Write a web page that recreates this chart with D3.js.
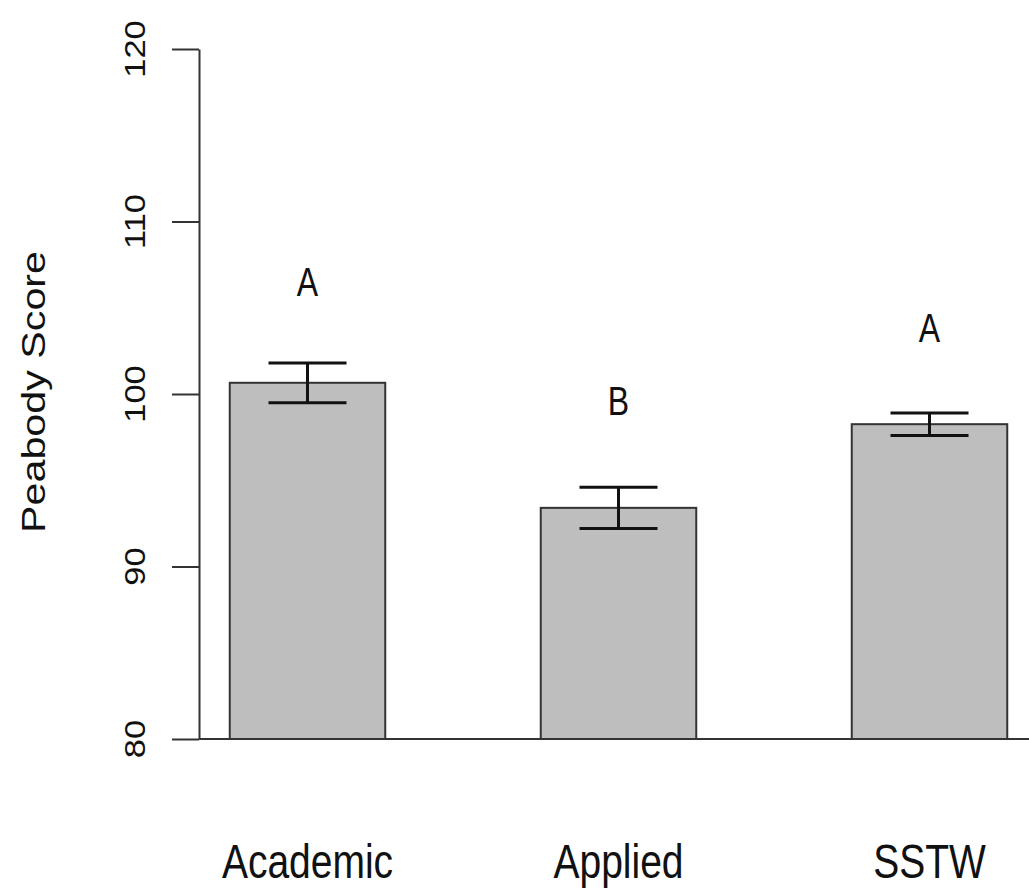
<!doctype html>
<html>
  <head>
    <script src="https://cdnjs.cloudflare.com/ajax/libs/d3/7.8.5/d3.min.js"></script>
    <style>
      body { margin: 0; background: #fff; }
      text { font-family: "Liberation Sans", Arial, sans-serif; fill: #111; }
      .bar { fill: #bebebe; stroke: #333; stroke-width: 2; }
      .err { stroke: #111; stroke-width: 3; fill: none; }
      .axis path, .axis line { stroke: #333; stroke-width: 2; }
    </style>
  </head>
  <body>
    <svg id="chart" width="1029" height="893"></svg>
    <script>
      // values
      var groups = ["Academic", "Applied", "SSTW"];
      var means = [100.65, 93.4, 98.25];
      var errs = [1.15, 1.2, 0.65];
      var letters = ["A", "B", "A"];
      var letterAt = [105.7, 98.8, 103.0];
      var yTicks = [80, 90, 100, 110, 120];

      var svg = d3.select("#chart");
      var stretch = 1.25; // text in the picture is drawn taller than wide

      var y = d3.scaleLinear().domain([80, 120]).range([739, 49]);
      var x = d3.scaleBand().domain(groups).range([152, 1085])
                .paddingInner(0.5).paddingOuter(0.25);

      // bars
      svg.selectAll("rect.bar").data(groups)
        .enter().append("rect")
          .attr("class", "bar")
          .attr("x", d => x(d))
          .attr("width", x.bandwidth())
          .attr("y", (d, i) => y(means[i]))
          .attr("height", (d, i) => y(80) - y(means[i]));

      // baseline
      svg.append("line")
        .attr("x1", 199).attr("x2", 1029)
        .attr("y1", y(80)).attr("y2", y(80))
        .style("stroke", "#333").style("stroke-width", 2);

      // y axis
      svg.append("g").attr("class", "axis")
        .attr("transform", "translate(199,0)")
        .call(d3.axisLeft(y).tickValues(yTicks).tickSize(27).tickSizeOuter(0).tickFormat(""));

      // error bars
      var capW = 78;
      var eb = svg.selectAll("g.eb").data(groups).enter().append("g").attr("class", "eb");
      eb.append("line").attr("class", "err")
        .attr("x1", d => x(d) + x.bandwidth() / 2).attr("x2", d => x(d) + x.bandwidth() / 2)
        .attr("y1", (d, i) => y(means[i] + errs[i])).attr("y2", (d, i) => y(means[i] - errs[i]));
      eb.append("line").attr("class", "err")
        .attr("x1", d => x(d) + x.bandwidth() / 2 - capW / 2).attr("x2", d => x(d) + x.bandwidth() / 2 + capW / 2)
        .attr("y1", (d, i) => y(means[i] + errs[i])).attr("y2", (d, i) => y(means[i] + errs[i]));
      eb.append("line").attr("class", "err")
        .attr("x1", d => x(d) + x.bandwidth() / 2 - capW / 2).attr("x2", d => x(d) + x.bandwidth() / 2 + capW / 2)
        .attr("y1", (d, i) => y(means[i] - errs[i])).attr("y2", (d, i) => y(means[i] - errs[i]));

      // text helper: stretched vertically like the picture
      function label(px, py, str, size, rot) {
        var g = svg.append("g").attr("transform", "translate(" + px + "," + py + ") scale(1," + stretch + ")");
        g.append("text")
          .attr("transform", rot ? "rotate(" + rot + ")" : null)
          .attr("text-anchor", "middle")
          .style("font-size", size + "px")
          .text(str);
      }

      // letters above bars
      letters.forEach((l, i) => label(x(groups[i]) + x.bandwidth() / 2, y(letterAt[i]), l, 32));

      // category labels
      groups.forEach(g => label(x(g) + x.bandwidth() / 2, 878, g, 39));

      // tick labels (rotated)
      yTicks.forEach(t => {
        var g = svg.append("g").attr("transform", "translate(145," + y(t) + ") scale(1,1.15)");
        g.append("text").attr("transform", "rotate(-90)")
          .attr("text-anchor", "middle").style("font-size", "30px").text(t);
      });

      // axis title
      var tg = svg.append("g").attr("transform", "translate(45,392) scale(1," + stretch + ")");
      tg.append("text").attr("transform", "rotate(-90)")
        .attr("text-anchor", "middle").style("font-size", "33px").text("Peabody Score");
    </script>
  </body>
</html>
